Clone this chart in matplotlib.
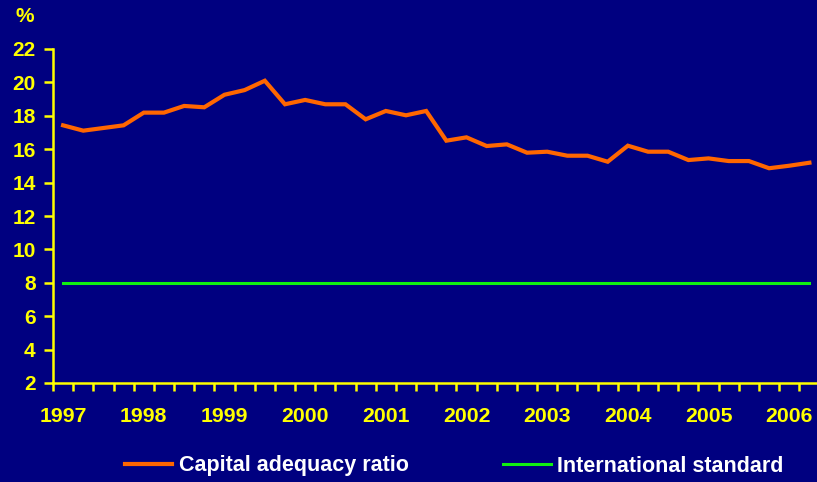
import matplotlib
matplotlib.use("Agg")
import matplotlib.pyplot as plt
import numpy as np

# quarterly data, 1997Q1 .. 2006Q2
years = ["1997", "1998", "1999", "2000", "2001", "2002", "2003", "2004", "2005", "2006"]
capital_ratio = [17.43, 17.11, 17.27, 17.43, 18.19, 18.19, 18.59, 18.51,
                 19.26, 19.54, 20.10, 18.69, 18.95, 18.69, 18.69, 17.79,
                 18.29, 18.03, 18.29, 16.51, 16.71, 16.19, 16.29, 15.79,
                 15.85, 15.61, 15.61, 15.25, 16.21, 15.85, 15.85, 15.35,
                 15.45, 15.29, 15.29, 14.86, 15.01, 15.19]
intl_standard = [8.0] * len(capital_ratio)

navy = "#000080"
yellow = "#FFFF00"
orange = "#FF6600"
green = "#11F011"

plt.rcParams['font.family'] = ['Liberation Sans', 'DejaVu Sans']
plt.rcParams['font.weight'] = 'bold'

W, H = 817, 482
fig = plt.figure(figsize=(W / 100, H / 100), dpi=100, facecolor=navy)
ax = fig.add_axes([53 / W, 1 - 383 / H, (819.5 - 53) / W, 334 / H])
ax.set_facecolor(navy)

x = np.arange(len(capital_ratio))
ax.plot(x, capital_ratio, color=orange, lw=3.0, solid_joinstyle='miter',
        label="Capital adequacy ratio")
ax.plot(x, intl_standard, color=green, lw=2.2, label="International standard")

ax.set_xlim(-0.5, len(capital_ratio) - 0.5)
ax.set_ylim(2, 22)
ax.set_yticks(np.arange(2, 23, 2))

ax.set_xticks(np.arange(0, len(capital_ratio), 4))
ax.set_xticklabels(years)
ax.set_xticks(np.arange(-0.5, len(capital_ratio) + 0.5, 1), minor=True)

for s in ("top", "right"):
    ax.spines[s].set_visible(False)
for s in ("left", "bottom"):
    ax.spines[s].set_color(yellow)
    ax.spines[s].set_linewidth(1.8)

ax.tick_params(axis='y', colors=yellow, length=6.5, width=1.8, pad=6,
               labelsize=15)
ax.tick_params(axis='x', which='major', colors=yellow, length=0, pad=17,
               labelsize=15.3)
ax.tick_params(axis='x', which='minor', colors=yellow, length=6, width=1.8,
               direction='out')
for lbl in ax.get_xticklabels() + ax.get_yticklabels():
    lbl.set_fontweight('bold')

fig.text(25 / W, 1 - 16 / H, "%", color=yellow, fontsize=15,
         fontweight='bold', ha='center', va='center')

leg = fig.legend(loc='center left', bbox_to_anchor=(125 / W, 1 - 466 / H),
                 ncol=2, frameon=False, borderpad=0, borderaxespad=0,
                 handlelength=2.2, handletextpad=0.3, columnspacing=4.4,
                 prop={'size': 15.5, 'weight': 'bold'})
for t in leg.get_texts():
    t.set_color('white')

fig.savefig("out.png", dpi=100, facecolor=navy)
